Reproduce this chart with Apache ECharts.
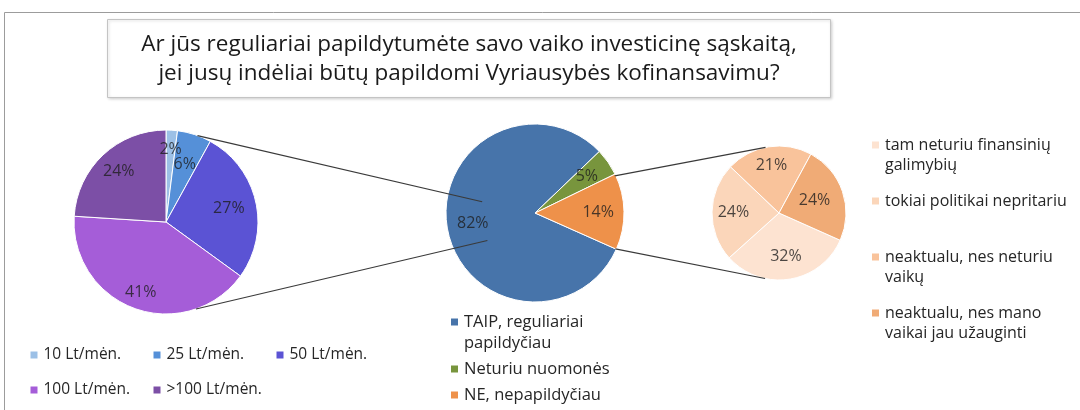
<!DOCTYPE html>
<html>
<head>
<meta charset="utf-8">
<script src="https://cdn.jsdelivr.net/npm/echarts@6/dist/echarts.min.js"></script>
<style>
  html, body { margin: 0; background: #fff; }
  #chart { width: 1080px; height: 410px; }
</style>
</head>
<body>
<div id="chart"></div>
<script>
// --- data ---
const titleText = 'Ar jūs reguliariai papildytumėte savo vaiko investicinę sąskaitą,\njei jusų indėliai būtų papildomi Vyriausybės kofinansavimu?';

const amountNames = ['10 Lt/mėn.', '25 Lt/mėn.', '50 Lt/mėn.', '100 Lt/mėn.', '>100 Lt/mėn.'];
const amountValues = [2, 6, 27, 41, 24];

const answerNames = ['TAIP, reguliariai papildyčiau', 'Neturiu nuomonės', 'NE, nepapildyčiau'];
const answerValues = [82, 5, 14];

const reasonNames = [
  'tam neturiu finansinių galimybių',
  'tokiai politikai nepritariu',
  'neaktualu, nes neturiu vaikų',
  'neaktualu, nes mano vaikai jau užauginti'
];
const reasonValues = [32, 24, 21, 24];

// legend text as wrapped in the original (leading blank line keeps the icon on line one)
const legendWrap = {
  'TAIP, reguliariai papildyčiau': '\nTAIP, reguliariai\npapildyčiau',
  'tam neturiu finansinių galimybių': '\ntam neturiu finansinių\ngalimybių',
  'tokiai politikai nepritariu': '\ntokiai politikai nepritariu\n',
  'neaktualu, nes neturiu vaikų': '\nneaktualu, nes neturiu\nvaikų',
  'neaktualu, nes mano vaikai jau užauginti': '\nneaktualu, nes mano\nvaikai jau užauginti'
};

// --- style / layout ---
const FONT = '"Open Sans", Lato, sans-serif';
const amountColors = ['#9cc0e6', '#5590d8', '#5b53d4', '#a55dd8', '#7c4fa6'];
const answerColors = ['#4774aa', '#78953d', '#ee914a'];
const reasonColors = ['#fde3d1', '#fbd6ba', '#f9c39b', '#f0ab76'];

// labelAt: distance of each percentage label from the centre, as a share of the radius
const LEFT_PIE = { center: [166, 222], r: 92, start: 90, labelAt: [0.79, 0.66, 0.7, 0.81, 0.75] };
const MID_PIE = { center: [535, 213], r: 89, start: 336, labelAt: [0.71, 0.71, 0.71] };
const RIGHT_PIE = { center: [779, 213], r: 67, start: 336, labelAt: [0.66, 0.68, 0.72, 0.56] };

function polarPoint(pie, r, deg) {
  const a = deg * Math.PI / 180;
  return [pie.center[0] + r * Math.cos(a), pie.center[1] - r * Math.sin(a)];
}

// connector lines between the pies: [pie, radius, angle] pairs
const connectors = [
  [[LEFT_PIE, 92, 70], [MID_PIE, 54, 168]],
  [[LEFT_PIE, 92, -71], [MID_PIE, 55, -150]],
  [[MID_PIE, 88, 25], [RIGHT_PIE, 67, 101.6]],
  [[MID_PIE, 88, -24], [RIGHT_PIE, 67, -102]]
];

const sum = arr => arr.reduce((a, b) => a + b, 0);

function pieSeries(names, values, colors, pie) {
  return {
    type: 'pie',
    center: pie.center,
    radius: [0, pie.r],
    startAngle: pie.start,
    clockwise: true,
    emphasis: { disabled: true },
    label: { show: false },
    labelLine: { show: false },
    itemStyle: { borderColor: '#ffffff', borderWidth: 1 },
    data: names.map((n, i) => ({ name: n, value: values[i], itemStyle: { color: colors[i] } }))
  };
}

// percentage labels placed on a polar system laid over each pie
function labelSeries(values, pie, polarIndex) {
  let acc = 0;
  const data = values.map((v, i) => {
    const mid = acc + v / 2;
    acc += v;
    return [pie.labelAt[i], mid];
  });
  return {
    type: 'scatter',
    coordinateSystem: 'polar',
    polarIndex: polarIndex,
    symbolSize: 0,
    silent: true,
    z: 5,
    label: {
      show: true,
      position: 'inside',
      formatter: p => values[p.dataIndex] + '%',
      color: '#1e1e1e',
      fontSize: 16,
      fontFamily: FONT
    },
    data: data
  };
}

const pies = [
  [amountValues, LEFT_PIE],
  [answerValues, MID_PIE],
  [reasonValues, RIGHT_PIE]
];

const chart = echarts.init(document.getElementById('chart'));

const legendText = { fontFamily: FONT, color: '#262626' };

chart.setOption({
  animation: false,
  backgroundColor: '#ffffff',
  title: {
    text: titleText,
    left: 469,
    top: 30,
    textAlign: 'center',
    padding: 0,
    textStyle: { fontFamily: FONT, fontSize: 22.5, fontWeight: 'normal', lineHeight: 29, color: '#1a1a1a' }
  },
  polar: pies.map(([, p]) => ({ center: p.center, radius: p.r })),
  angleAxis: pies.map(([vals, p], i) => ({
    polarIndex: i, type: 'value', min: 0, max: sum(vals),
    startAngle: p.start, clockwise: true, show: false
  })),
  radiusAxis: pies.map((_, i) => ({ polarIndex: i, type: 'value', min: 0, max: 1, show: false })),
  graphic: [
    {
      type: 'rect', z: -10, silent: true,
      shape: { x: 4.5, y: 12.5, width: 1200, height: 500 },
      style: { fill: 'none', stroke: '#9c9c9c', lineWidth: 1 }
    },
    {
      type: 'rect', z: 0, silent: true,
      shape: { x: 107.5, y: 19.5, width: 723, height: 78 },
      style: { fill: '#ffffff', stroke: '#c4c4c4', lineWidth: 1, shadowBlur: 3, shadowOffsetX: 1, shadowOffsetY: 1, shadowColor: 'rgba(0,0,0,0.18)' }
    }
  ].concat(connectors.map(([a, b]) => {
    const p1 = polarPoint(a[0], a[1], a[2]);
    const p2 = polarPoint(b[0], b[1], b[2]);
    return {
      type: 'line', z: 50, silent: true,
      shape: { x1: p1[0], y1: p1[1], x2: p2[0], y2: p2[1] },
      style: { stroke: '#3a3a3a', lineWidth: 1.2 }
    };
  })),
  legend: [
    {
      data: amountNames,
      left: 28.5,
      top: 341.5,
      width: 380,
      padding: 0,
      orient: 'horizontal',
      itemWidth: 9,
      itemHeight: 9,
      itemGap: 8,
      icon: 'rect',
      selectedMode: false,
      textStyle: Object.assign({ fontSize: 15.5, lineHeight: 27, width: 100 }, legendText)
    },
    {
      data: answerNames,
      formatter: n => legendWrap[n] || n,
      left: 449,
      top: 290.5,
      padding: 0,
      orient: 'vertical',
      itemWidth: 9,
      itemHeight: 9,
      itemGap: 5,
      icon: 'rect',
      selectedMode: false,
      textStyle: Object.assign({ fontSize: 16.5, lineHeight: 21 }, legendText)
    },
    {
      data: reasonNames,
      formatter: n => legendWrap[n] || n,
      left: 870,
      top: 115,
      padding: 0,
      orient: 'vertical',
      itemWidth: 9,
      itemHeight: 9,
      itemGap: -4,
      icon: 'rect',
      selectedMode: false,
      textStyle: Object.assign({ fontSize: 16, lineHeight: 20 }, legendText)
    }
  ],
  series: [
    pieSeries(amountNames, amountValues, amountColors, LEFT_PIE),
    pieSeries(answerNames, answerValues, answerColors, MID_PIE),
    pieSeries(reasonNames, reasonValues, reasonColors, RIGHT_PIE),
    labelSeries(amountValues, LEFT_PIE, 0),
    labelSeries(answerValues, MID_PIE, 1),
    labelSeries(reasonValues, RIGHT_PIE, 2)
  ]
});
</script>
</body>
</html>
